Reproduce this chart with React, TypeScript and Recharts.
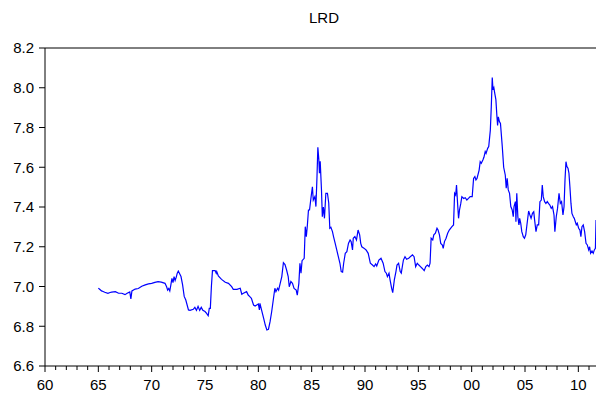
import { CartesianGrid, Line, LineChart, ReferenceLine, XAxis, YAxis } from "recharts";

// observation dates (fractional years) and the LRD series read at those dates
const obsDates = [
  1965.0, 1965.15, 1965.3, 1965.45, 1965.6, 1965.9, 1966.1, 1966.25, 1966.6, 1966.9,
  1967.2, 1967.5, 1967.7, 1967.95, 1968.05, 1968.15, 1968.45, 1968.75, 1969.07, 1969.4,
  1969.7, 1970.0, 1970.3, 1970.6, 1970.9, 1971.25, 1971.4, 1971.5, 1971.6, 1971.7,
  1971.8, 1971.9, 1972.0, 1972.1, 1972.2, 1972.3, 1972.4, 1972.5, 1972.6, 1972.75,
  1972.9, 1973.05, 1973.2, 1973.45, 1973.6, 1973.9, 1974.05, 1974.2, 1974.35, 1974.5,
  1974.65, 1974.8, 1975.0, 1975.15, 1975.3, 1975.4, 1975.5, 1975.6, 1975.7, 1975.95,
  1976.05, 1976.1, 1976.25, 1976.55, 1976.9, 1977.2, 1977.5, 1977.65, 1978.0, 1978.3,
  1978.45, 1978.6, 1978.9, 1979.05, 1979.2, 1979.35, 1979.55, 1979.7, 1979.85, 1980.0,
  1980.1, 1980.15, 1980.3, 1980.5, 1980.65, 1980.8, 1980.95, 1981.1, 1981.25, 1981.4,
  1981.55, 1981.65, 1981.8, 1981.9, 1982.05, 1982.2, 1982.35, 1982.5, 1982.65, 1982.8,
  1982.9, 1983.05, 1983.2, 1983.35, 1983.55, 1983.65, 1983.8, 1983.9, 1984.0, 1984.1,
  1984.3, 1984.4, 1984.5, 1984.6, 1984.7, 1984.8, 1984.95, 1985.07, 1985.15, 1985.3,
  1985.4, 1985.5, 1985.58, 1985.67, 1985.73, 1985.8, 1985.92, 1986.0, 1986.1, 1986.2,
  1986.33, 1986.48, 1986.6, 1986.7, 1986.8, 1986.95, 1987.05, 1987.2, 1987.35, 1987.5,
  1987.65, 1987.77, 1987.9, 1988.0, 1988.15, 1988.3, 1988.45, 1988.6, 1988.7, 1988.83,
  1988.9, 1989.05, 1989.2, 1989.35, 1989.5, 1989.6, 1989.7, 1989.9, 1990.1, 1990.3,
  1990.5, 1990.7, 1990.85, 1991.0, 1991.1, 1991.3, 1991.5, 1991.7, 1991.87, 1992.0,
  1992.1, 1992.25, 1992.35, 1992.5, 1992.6, 1992.75, 1992.9, 1993.0, 1993.15, 1993.3,
  1993.4, 1993.55, 1993.6, 1993.75, 1993.9, 1994.1, 1994.25, 1994.45, 1994.6, 1994.75,
  1994.9, 1995.05, 1995.2, 1995.35, 1995.55, 1995.7, 1995.85, 1996.0, 1996.1, 1996.2,
  1996.35, 1996.45, 1996.6, 1996.75, 1996.85, 1996.98, 1997.1, 1997.25, 1997.33, 1997.45,
  1997.6, 1997.75, 1997.9, 1998.15, 1998.3, 1998.4, 1998.5, 1998.58, 1998.68, 1998.77,
  1998.86, 1998.98, 1999.08, 1999.25, 1999.4, 1999.55, 1999.7, 1999.86, 2000.05, 2000.18,
  2000.3, 2000.4, 2000.5, 2000.7, 2000.8, 2000.9, 2001.05, 2001.15, 2001.27, 2001.35,
  2001.5, 2001.6, 2001.75, 2001.84, 2001.93, 2002.0, 2002.08, 2002.17, 2002.27, 2002.37,
  2002.43, 2002.5, 2002.6, 2002.7, 2002.87, 2003.0, 2003.15, 2003.24, 2003.33, 2003.43,
  2003.55, 2003.67, 2003.8, 2003.9, 2003.97, 2004.1, 2004.15, 2004.23, 2004.33, 2004.43,
  2004.5, 2004.6, 2004.7, 2004.84, 2004.95, 2005.07, 2005.2, 2005.34, 2005.46, 2005.57,
  2005.7, 2005.82, 2005.9, 2006.03, 2006.15, 2006.28, 2006.4, 2006.53, 2006.62, 2006.71,
  2006.84, 2006.96, 2007.09, 2007.2, 2007.33, 2007.46, 2007.58, 2007.72, 2007.8, 2007.93,
  2008.05, 2008.19, 2008.31, 2008.43, 2008.56, 2008.66, 2008.75, 2008.84, 2008.93, 2009.03,
  2009.12, 2009.21, 2009.31, 2009.4, 2009.53, 2009.62, 2009.72, 2009.81, 2009.9, 2010.03,
  2010.15, 2010.24, 2010.34, 2010.46, 2010.59, 2010.72, 2010.84, 2010.97, 2011.06, 2011.15,
  2011.28, 2011.4, 2011.5, 2011.6, 2011.66,
];

const lrdValues = [
  6.992, 6.985, 6.978, 6.975, 6.971, 6.966, 6.97, 6.972, 6.974, 6.966,
  6.966, 6.959, 6.966, 6.973, 6.937, 6.978, 6.987, 6.99, 7.001, 7.008,
  7.013, 7.016, 7.021, 7.024, 7.022, 7.016, 6.999, 6.982, 6.99, 6.978,
  7.008, 7.041, 7.02, 7.05, 7.03, 7.046, 7.067, 7.078, 7.067, 7.05,
  7.008, 6.95, 6.932, 6.882, 6.88, 6.885, 6.895, 6.88, 6.9, 6.88,
  6.895, 6.88, 6.874, 6.865, 6.853, 6.89, 6.89, 7.0, 7.08, 7.08,
  7.067, 7.075, 7.053, 7.036, 7.021, 7.016, 6.999, 6.986, 6.986, 6.991,
  6.961, 6.966, 6.974, 6.957, 6.949, 6.941, 6.907, 6.902, 6.907, 6.912,
  6.882, 6.915, 6.882, 6.84, 6.806, 6.781, 6.785, 6.823, 6.873, 6.932,
  6.991, 6.974, 6.991, 6.982, 7.016, 7.05, 7.12, 7.11, 7.083, 7.05,
  6.999, 7.025, 7.016, 6.99, 6.982, 6.957, 7.016, 7.117, 7.067, 7.13,
  7.142, 7.301, 7.25, 7.31, 7.385, 7.385, 7.452, 7.502, 7.435, 7.452,
  7.402, 7.553, 7.7, 7.64, 7.57, 7.63, 7.486, 7.351, 7.4, 7.343,
  7.469, 7.469, 7.42, 7.293, 7.298, 7.276, 7.251, 7.218, 7.184, 7.15,
  7.117, 7.075, 7.072, 7.117, 7.167, 7.175, 7.217, 7.234, 7.226, 7.184,
  7.243, 7.251, 7.234, 7.284, 7.26, 7.217, 7.2, 7.193, 7.184, 7.167,
  7.117, 7.108, 7.1, 7.113, 7.103, 7.133, 7.142, 7.117, 7.075, 7.067,
  7.05, 7.067, 7.033, 6.991, 6.969, 7.033, 7.075, 7.108, 7.117, 7.075,
  7.067, 7.117, 7.133, 7.15, 7.137, 7.142, 7.15, 7.159, 7.15, 7.1,
  7.117, 7.108, 7.1, 7.092, 7.08, 7.1, 7.108, 7.1, 7.117, 7.243,
  7.234, 7.26, 7.268, 7.293, 7.284, 7.26, 7.217, 7.209, 7.192, 7.226,
  7.243, 7.268, 7.284, 7.301, 7.31, 7.469, 7.46, 7.511, 7.418, 7.343,
  7.385, 7.418, 7.452, 7.443, 7.447, 7.435, 7.443, 7.452, 7.452, 7.544,
  7.553, 7.536, 7.544, 7.586, 7.628, 7.62, 7.637, 7.65, 7.679, 7.67,
  7.695, 7.704, 7.787, 7.905, 8.052, 7.99, 8.0, 7.97, 7.94, 7.854,
  7.81, 7.854, 7.83, 7.82, 7.704, 7.6, 7.561, 7.494, 7.544, 7.486,
  7.469, 7.402, 7.385, 7.351, 7.402, 7.427, 7.326, 7.469, 7.351, 7.31,
  7.343, 7.318, 7.276, 7.251, 7.243, 7.26, 7.318, 7.38, 7.36, 7.343,
  7.368, 7.376, 7.335, 7.276, 7.31, 7.31, 7.427, 7.435, 7.511, 7.452,
  7.427, 7.418, 7.427, 7.418, 7.41, 7.393, 7.402, 7.36, 7.276, 7.351,
  7.393, 7.469, 7.418, 7.427, 7.36, 7.402, 7.536, 7.628, 7.603, 7.595,
  7.57, 7.502, 7.418, 7.368, 7.351, 7.343, 7.326, 7.31, 7.318, 7.293,
  7.284, 7.251, 7.301, 7.31, 7.276, 7.217, 7.209, 7.184, 7.2, 7.167,
  7.179, 7.167, 7.184, 7.192, 7.335,
];

// one tick per year, labelled every fifth year
const yearTicks = Array.from({ length: 52 }, (_, i) => 1960 + i);
const valueTicks = [6.6, 6.8, 7.0, 7.2, 7.4, 7.6, 7.8, 8.0, 8.2];

const data = obsDates.map((t, i) => ({ t, lrd: lrdValues[i] }));

const FONT = "'Liberation Sans', Arial, Helvetica, sans-serif";

function YearTick({ x, y, payload }: any) {
  const yr = payload.value as number;
  const major = yr % 5 === 0;
  return (
    <g>
      <line x1={x} x2={x} y1={y} y2={y + (major ? 6 : 4)} stroke="#000" strokeWidth={1} />
      {major && (
        <text x={x} y={y + 24} textAnchor="middle" fontSize={15} fontFamily={FONT} fill="#000">
          {String(yr % 100).padStart(2, "0")}
        </text>
      )}
    </g>
  );
}

export default function App() {
  return (
    <div
      style={{
        position: "absolute",
        left: 0,
        top: 0,
        width: 596,
        height: 396,
        overflow: "hidden",
        background: "#fff",
      }}
    >
      <div
        style={{
          position: "absolute",
          left: 48,
          top: 9,
          width: 552,
          textAlign: "center",
          fontFamily: FONT,
          fontSize: 15,
          color: "#000",
        }}
      >
        LRD
      </div>
      <LineChart
        width={604}
        height={396}
        data={data}
        margin={{ top: 48, right: 7, bottom: 0, left: 0 }}
      >
        <CartesianGrid vertical={false} horizontal={false} />
        <XAxis
          dataKey="t"
          type="number"
          domain={[1960, 2011.75]}
          ticks={yearTicks}
          interval={0}
          allowDataOverflow
          height={30}
          stroke="#000"
          tickLine={false}
          tickSize={0}
          tickMargin={0}
          tick={<YearTick />}
        />
        <YAxis
          type="number"
          domain={[6.6, 8.2]}
          ticks={valueTicks}
          interval={0}
          width={45}
          stroke="#000"
          tickSize={6}
          tickMargin={5}
          tickFormatter={(v: number) => v.toFixed(1)}
          tick={{ fontSize: 15, fontFamily: FONT, fill: "#000" }}
        />
        <ReferenceLine y={8.2} stroke="#000" strokeWidth={1} ifOverflow="extendDomain" />
        <Line
          type="linear"
          dataKey="lrd"
          stroke="#0000ff"
          strokeWidth={1.2}
          dot={false}
          isAnimationActive={false}
        />
      </LineChart>
    </div>
  );
}
